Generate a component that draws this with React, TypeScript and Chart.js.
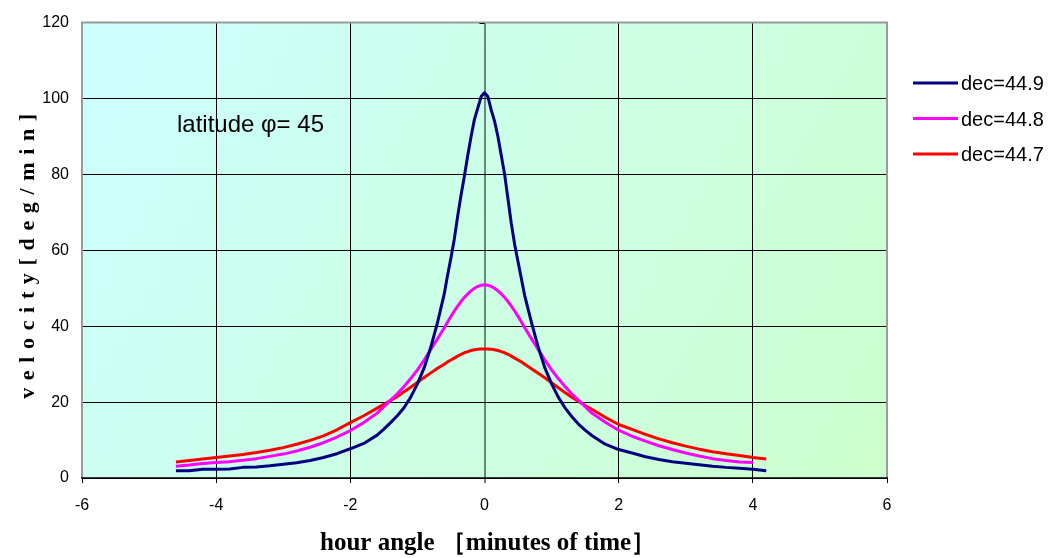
import React, { useEffect, useRef } from "react";
import { Chart, registerables } from "chart.js";

Chart.register(...registerables);

// ---------------- data ----------------
const hourAngle = [
  -4.6, -4.4, -4.2, -4.0, -3.8, -3.6, -3.4, -3.2, -3.0, -2.8, -2.6, -2.4, -2.2, -2.0, -1.8, -1.6,
  -1.5, -1.4, -1.3, -1.2, -1.1, -1.0, -0.9, -0.8, -0.7, -0.6,
  -0.55, -0.5, -0.45, -0.4, -0.35, -0.3, -0.25, -0.2, -0.15, -0.1, -0.05,
  0,
  0.05, 0.1, 0.15, 0.2, 0.25, 0.3, 0.35, 0.4, 0.45, 0.5, 0.55,
  0.6, 0.7, 0.8, 0.9, 1.0, 1.1, 1.2, 1.3, 1.4, 1.5, 1.6,
  1.8, 2.0, 2.2, 2.4, 2.6, 2.8, 3.0, 3.2, 3.4, 3.6, 3.8, 4.0, 4.2,
];

const dec449 = [
  1.9, 1.9, 2.3, 2.3, 2.4, 2.8, 2.9, 3.2, 3.6, 4.0, 4.6, 5.4, 6.4, 7.7, 9.1, 11.3,
  12.9, 14.6, 16.4, 18.5, 21.3, 24.8, 29.0, 34.5, 41.0, 48.5,
  53.5, 58.0, 63.0, 69.0, 74.5, 79.5, 85.0, 90.0, 94.5, 97.5, 100.5,
  101.5,
  100.5, 97.0, 94.0, 90.0, 85.0, 80.0, 73.5, 67.0, 61.5, 57.0, 52.5,
  48.0, 41.0, 34.5, 29.0, 24.8, 21.3, 18.5, 16.2, 14.2, 12.6, 11.2,
  8.9, 7.5, 6.6, 5.6, 4.9, 4.3, 3.9, 3.5, 3.1, 2.8, 2.6, 2.3, 1.9,
];

const dec448 = [
  3.1, 3.4, 3.8, 4.1, 4.3, 4.7, 5.1, 5.7, 6.3, 7.1, 8.1, 9.3, 10.8, 12.5, 14.6, 17.1,
  18.8, 20.5, 22.2, 24.1, 26.2, 28.5, 31.1, 33.9, 36.7, 39.6,
  41.1, 42.6, 44.0, 45.3, 46.5, 47.6, 48.5, 49.3, 50.0, 50.5, 50.8,
  50.9,
  50.8, 50.5, 50.0, 49.3, 48.5, 47.6, 46.5, 45.3, 44.0, 42.6, 41.1,
  39.6, 36.7, 33.9, 31.1, 28.5, 26.2, 24.1, 22.2, 20.5, 18.8, 17.1,
  14.7, 12.6, 11.0, 9.7, 8.5, 7.5, 6.6, 5.8, 5.1, 4.6, 4.2, 4.1, null,
];

const dec447 = [
  4.2, 4.6, 5.0, 5.4, 5.8, 6.2, 6.7, 7.3, 8.0, 8.9, 9.9, 11.1, 12.7, 14.6, 16.4, 18.4,
  19.4, 20.4, 21.5, 22.7, 23.9, 25.2, 26.5, 27.7, 28.9, 30.0,
  30.6, 31.1, 31.6, 32.1, 32.6, 33.0, 33.3, 33.6, 33.8, 33.9, 34.0,
  34.0,
  34.0, 33.9, 33.8, 33.6, 33.3, 33.0, 32.6, 32.1, 31.6, 31.1, 30.6,
  30.0, 28.8, 27.6, 26.4, 25.1, 23.8, 22.5, 21.3, 20.2, 19.1, 18.1,
  16.0, 14.1, 12.8, 11.5, 10.3, 9.3, 8.4, 7.6, 6.9, 6.4, 5.9, 5.4, 5.0,
];

const seriesLabels = ["dec=44.9", "dec=44.8", "dec=44.7"];
const seriesColors = ["#000080", "#FF00FF", "#FF0000"];
const seriesValues = [dec449, dec448, dec447];

const xTicks = [-6, -4, -2, 0, 2, 4, 6];
const yTicks = [0, 20, 40, 60, 80, 100, 120];

const annotationText = "latitude \u03c6= 45";
const xTitle = "hour angle \uff3bminutes of time\uff3d";
const yTitle = "velocity[deg/min]";

// ---------------- plugins ----------------
const backgroundPlugin = {
  id: "bgPlot",
  beforeDraw(chart: any) {
    const { ctx, chartArea: a, width, height } = chart;
    ctx.save();
    ctx.fillStyle = "#ffffff";
    ctx.fillRect(0, 0, width, height);
    const g = ctx.createLinearGradient(a.left, a.top, a.right, a.bottom);
    g.addColorStop(0, "#CCFFFF");
    g.addColorStop(1, "#CCFFCC");
    ctx.fillStyle = g;
    ctx.fillRect(a.left, a.top, a.right - a.left, a.bottom - a.top);
    ctx.restore();
  },
};

const framePlugin = {
  id: "frame",
  beforeDatasetsDraw(chart: any) {
    const { ctx, chartArea: a, scales } = chart;
    ctx.save();
    ctx.strokeStyle = "#9a9a9a";
    ctx.lineWidth = 2;
    ctx.beginPath();
    ctx.moveTo(a.left, a.bottom);
    ctx.lineTo(a.left, a.top);
    ctx.lineTo(a.right, a.top);
    ctx.lineTo(a.right, a.bottom);
    ctx.stroke();
    ctx.strokeStyle = "#000000";
    ctx.lineWidth = 1.5;
    ctx.beginPath();
    ctx.moveTo(a.left - 1, a.bottom);
    ctx.lineTo(a.right + 1, a.bottom);
    ctx.stroke();
    const x0 = scales.x.getPixelForValue(0);
    ctx.strokeStyle = "#000000";
    ctx.lineWidth = 1;
    yTicks.forEach((v) => {
      const y = Math.round(scales.y.getPixelForValue(v)) + 0.5;
      ctx.beginPath();
      ctx.moveTo(x0 - 5, y);
      ctx.lineTo(x0, y);
      ctx.stroke();
    });
    ctx.restore();
  },
};

const textPlugin = {
  id: "texts",
  afterDraw(chart: any) {
    const { ctx, chartArea: a } = chart;
    ctx.save();
    ctx.font = '20px "Liberation Sans", Arial, sans-serif';
    ctx.textAlign = "left";
    ctx.textBaseline = "alphabetic";
    chart.data.datasets.forEach((ds: any, i: number) => {
      const y = 83 + i * 35.5;
      ctx.strokeStyle = ds.borderColor;
      ctx.lineWidth = 3;
      ctx.beginPath();
      ctx.moveTo(913, y);
      ctx.lineTo(958, y);
      ctx.stroke();
      ctx.fillStyle = "#000";
      ctx.fillText(ds.label, 961, y + 7);
    });

    ctx.font = '24px "Liberation Sans", Arial, sans-serif';
    ctx.fillStyle = "#000";
    ctx.fillText(annotationText, 177, 131.5);

    ctx.font = 'bold 25px "Liberation Serif", "Times New Roman", serif';
    ctx.textAlign = "left";
    ctx.fillText(xTitle, 320, 550);

    ctx.font = 'bold 22px "Liberation Serif", "Times New Roman", serif';
    const target = 285;
    (ctx as any).letterSpacing = "0px";
    const w0 = ctx.measureText(yTitle).width;
    const sp = Math.max(0, (target - w0) / (yTitle.length - 1));
    (ctx as any).letterSpacing = sp + "px";
    ctx.translate(34, (a.top + a.bottom) / 2 + 6);
    ctx.rotate(-Math.PI / 2);
    ctx.textAlign = "left";
    ctx.fillText(yTitle, -target / 2, 0);
    (ctx as any).letterSpacing = "0px";
    ctx.restore();
  },
};

// ---------------- component ----------------
export default function App() {
  const ref = useRef<HTMLCanvasElement | null>(null);

  useEffect(() => {
    document.body.style.margin = "0";
    const canvas = ref.current;
    if (!canvas) return;

    const datasets = seriesValues.map((vals, i) => ({
      label: seriesLabels[i],
      data: hourAngle
        .map((x, j) => ({ x, y: vals[j] }))
        .filter((p) => p.y !== null && p.y !== undefined),
      borderColor: seriesColors[i],
      backgroundColor: seriesColors[i],
      borderWidth: 3,
      pointRadius: 0,
      tension: 0,
      fill: false,
      borderJoinStyle: "round" as const,
    }));

    const tickFont = { family: '"Liberation Sans", Arial, sans-serif', size: 16 };

    const chart = new Chart(canvas, {
      type: "line",
      data: { datasets },
      plugins: [backgroundPlugin, framePlugin, textPlugin],
      options: {
        animation: false,
        responsive: false,
        maintainAspectRatio: false,
        layout: { padding: { top: 20, right: 161, left: 0, bottom: 0 } },
        plugins: {
          legend: { display: false },
          tooltip: { enabled: false },
          title: { display: false },
        },
        scales: {
          x: {
            type: "linear",
            min: -6,
            max: 6,
            afterBuildTicks: (s: any) => {
              s.ticks = xTicks.map((v) => ({ value: v }));
            },
            afterFit: (s: any) => {
              s.height = 80;
            },
            ticks: { color: "#000", font: tickFont, padding: 13, maxRotation: 0, autoSkip: false },
            grid: {
              color: (c: any) => (c.tick && c.tick.value === 0 ? "#6a8a78" : "#000000"),
              lineWidth: (c: any) => (c.tick && c.tick.value === 0 ? 2 : 1),
              tickColor: "#000000",
              tickWidth: 1,
              tickLength: 5,
              drawTicks: true,
            },
            border: { display: false },
          },
          y: {
            type: "linear",
            min: 0,
            max: 120,
            afterBuildTicks: (s: any) => {
              s.ticks = yTicks.map((v) => ({ value: v }));
            },
            afterFit: (s: any) => {
              s.width = 82;
            },
            ticks: { color: "#000", font: tickFont, padding: 13 },
            grid: {
              color: "#000000",
              lineWidth: 1,
              drawTicks: false,
            },
            border: { display: false },
          },
        },
      },
    });

    return () => chart.destroy();
  }, []);

  return (
    <div style={{ width: 1048, height: 558, position: "relative" }}>
      <canvas ref={ref} width={1048} height={558} style={{ display: "block" }} />
    </div>
  );
}
